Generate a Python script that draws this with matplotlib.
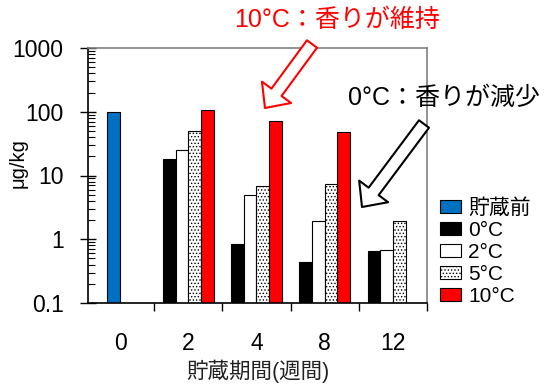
import numpy as np
import matplotlib.pyplot as plt
from matplotlib.ticker import FixedLocator, NullFormatter, FuncFormatter

plt.rcParams['font.family'] = ['Liberation Sans', 'Noto Sans CJK JP']
plt.rcParams['hatch.linewidth'] = 0.6

# 貯蔵期間(週)ごとの香気成分量 (μg/kg)
periods = ['0', '2', '4', '8', '12']
before = [100]                          # 貯蔵前 (0週のみ)
t0 = [18, 0.83, 0.44, 0.66]             # 0°C  (2, 4, 8, 12週)
t2 = [25, 4.9, 1.9, 0.69]               # 2°C
t5 = [49, 6.8, 7.3, 1.9]                # 5°C
t10 = [106, 72, 48]                     # 10°C (12週なし)
legend_labels = ['貯蔵前', '0°C', '2°C', '5°C', '10°C']

fig = plt.figure(figsize=(5.54, 3.88), dpi=100)
ax = fig.add_axes([88/554, 85/388, 339/554, 255/388])

w = 0.185
x = np.arange(len(periods))
kw = dict(width=w, edgecolor='black', linewidth=0.8)
h_before = ax.bar(x[:1] - w/2, before, color='#0070C0', **kw)
h0 = ax.bar(x[1:] - 1.5*w, t0, color='black', **kw)
h2 = ax.bar(x[1:] - 0.5*w, t2, color='white', **kw)
h5 = ax.bar(x[1:] + 0.5*w, t5, color='white', hatch='.....', **kw)
h10 = ax.bar(x[1:4] + 1.5*w, t10, color='#FF0000', **kw)

ax.set_yscale('log')
ax.set_ylim(0.1, 1000)
ax.set_xlim(-0.47, 4.5)
ax.yaxis.set_major_formatter(FuncFormatter(lambda v, p: f'{v:g}'))
ax.yaxis.set_minor_formatter(NullFormatter())
ax.tick_params(axis='y', which='major', direction='inout', length=11, width=1,
               labelsize=16.5, pad=12)
ax.tick_params(axis='y', which='minor', direction='in', length=5, width=0.8)

ax.set_xticks(x)
ax.set_xticklabels(periods)
ax.xaxis.set_minor_locator(FixedLocator(np.arange(-0.5, 4.6, 1)))
ax.tick_params(axis='x', which='major', length=0, labelsize=16.5, pad=21)
ax.tick_params(axis='x', which='minor', direction='out', length=6, width=1)
ax.set_xlabel('貯蔵期間(週間)', fontsize=15.5, labelpad=3, color='#222222')

for s in ['top', 'right']:
    ax.spines[s].set_color('#808080')
    ax.spines[s].set_linewidth(1.2)
ax.spines['left'].set_linewidth(1.2)
ax.spines['bottom'].set_linewidth(1.2)

fig.text(18/554, 1 - 163/388, 'μg/kg', rotation=90, ha='center', va='center',
         fontsize=14.5)

fig.legend([h_before, h0, h2, h5, h10], legend_labels,
           loc='upper left', bbox_to_anchor=(432/554, 1 - 190/388),
           frameon=False, fontsize=15, handlelength=1.0, handleheight=0.55,
           handletextpad=0.35, labelspacing=0.14, borderaxespad=0)

# 注釈と白抜き矢印
fig.text(337/554, 1 - 20/388, '10°C：香りが維持', color='red', fontsize=18,
         ha='center', va='center')
fig.text(444/554, 1 - 98/388, '0°C：香りが減少', color='black', fontsize=18,
         ha='center', va='center')
arrow = 'simple,head_length=0.7,head_width=1.3,tail_width=0.45'
ax.annotate('', xy=(265, 388 - 108), xycoords='figure pixels',
            xytext=(312, 388 - 44), textcoords='figure pixels',
            arrowprops=dict(arrowstyle=arrow, mutation_scale=20, fc='white',
                            ec='red', lw=1.5, shrinkA=0, shrinkB=0))
ax.annotate('', xy=(362, 388 - 207), xycoords='figure pixels',
            xytext=(424, 388 - 124), textcoords='figure pixels',
            arrowprops=dict(arrowstyle=arrow, mutation_scale=20, fc='white',
                            ec='black', lw=1.5, shrinkA=0, shrinkB=0))

fig.savefig('out.png', dpi=100)
